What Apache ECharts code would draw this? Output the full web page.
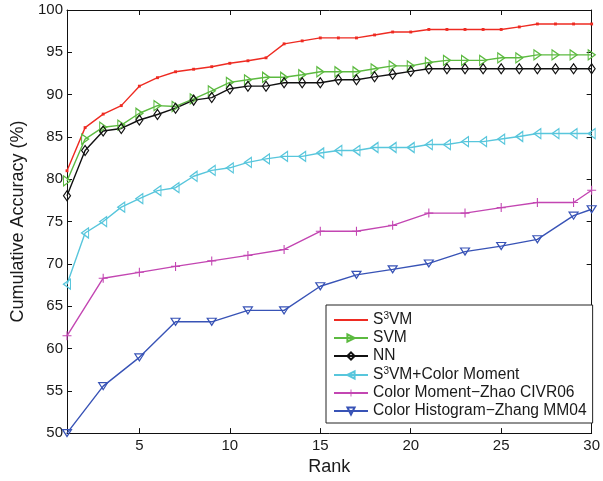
<!DOCTYPE html>
<html><head><meta charset="utf-8">
<script src="https://cdn.jsdelivr.net/npm/echarts@6/dist/echarts.min.js"></script>
<style>html,body{margin:0;padding:0;background:#fff}#c{width:603px;height:481px}</style>
</head><body><div id="c"></div>
<script>
const ranksAll = [1,2,3,4,5,6,7,8,9,10,11,12,13,14,15,16,17,18,19,20,21,22,23,24,25,26,27,28,29,30];
const ranksOdd = [1,3,5,7,9,11,13,15,17,19,21,23,25,27,29,30];
const xTicks = [5,10,15,20,25,30];
const s3vm = [81.0,86.1,87.7,88.7,91.0,92.0,92.7,93.0,93.3,93.7,94.0,94.35,96.0,96.35,96.7,96.7,96.7,97.05,97.4,97.4,97.7,97.7,97.7,97.7,97.7,98.0,98.35,98.35,98.35,98.35];
const svm = [79.8,84.75,86.15,86.4,87.8,88.7,88.6,89.5,90.45,91.45,91.75,92.05,92.05,92.35,92.7,92.7,92.7,93.05,93.4,93.4,93.8,94.05,94.05,94.05,94.35,94.35,94.7,94.7,94.7,94.7];
const nn = [78.05,83.4,85.7,86.0,87.0,87.65,88.4,89.35,89.65,90.7,91.0,91.0,91.4,91.4,91.4,91.75,91.75,92.1,92.4,92.75,93.05,93.05,93.05,93.05,93.05,93.05,93.05,93.05,93.05,93.05];
const s3vmCM = [67.6,73.65,75.0,76.7,77.7,78.65,79.0,80.35,81.05,81.35,82.0,82.4,82.7,82.7,83.1,83.4,83.4,83.75,83.75,83.75,84.1,84.1,84.45,84.45,84.75,85.05,85.4,85.4,85.4,85.4];
const cmZhao = [61.5,68.3,69.0,69.7,70.35,71.0,71.7,73.85,73.85,74.55,76.0,76.0,76.65,77.25,77.25,78.7];
const chZhang = [50.0,55.55,58.95,63.15,63.15,64.5,64.5,67.35,68.7,69.35,70.05,71.45,72.1,72.9,75.7,76.45];
const names = ['S3VM','SVM','NN','S3VM+Color Moment','Color Moment\u2212Zhao CIVR06','Color Histogram\u2212Zhang MM04'];

const pair = (xs, ys) => xs.map((x, i) => [x, ys[i]]);
const font = 'Liberation Sans, Arial, Helvetica, sans-serif';
const chart = echarts.init(document.getElementById('c'), null, {renderer: 'canvas'});

function mk(name, xs, ys, color, symbol, size, rot, hollow) {
  return {
    name, type: 'line', data: pair(xs, ys),
    symbol, symbolSize: size, symbolRotate: rot || 0,
    lineStyle: {color, width: 1.4},
    itemStyle: hollow ? {color: 'rgba(255,255,255,0)', borderColor: color, borderWidth: 1.2}
                      : {color, borderWidth: 0},
    emphasis: {disabled: true}, animation: false, z: 2
  };
}
const plus = 'path://M4.4,0H5.6V4.4H10V5.6H5.6V10H4.4V5.6H0V4.4H4.4Z';
const dot = 'path://M0,0M10,10M3.8,3.8H6.2V6.2H3.8Z';

const axisCommon = {
  type: 'value', min: 1, max: 30,
  axisLine: {show: true, onZero: false, lineStyle: {color: '#111', width: 1}},
  splitLine: {show: false}
};
const yCommon = {
  type: 'value', min: 50, max: 100, interval: 5,
  axisLine: {show: true, onZero: false, lineStyle: {color: '#111', width: 1}},
  splitLine: {show: false}
};

chart.setOption({
  backgroundColor: '#fff',
  animation: false,
  grid: {left: 67, right: 6, top: 10, bottom: 43, containLabel: false},
  xAxis: [
    Object.assign({}, axisCommon, {
      position: 'bottom',
      name: 'Rank', nameLocation: 'middle', nameGap: 18,
      nameTextStyle: {fontFamily: font, fontSize: 18, color: '#1a1a1a'},
      axisTick: {show: true, inside: true, length: 5, customValues: xTicks, lineStyle: {color: '#111'}},
      axisLabel: {show: true, customValues: xTicks, margin: 5, fontFamily: font, fontSize: 15, color: '#1a1a1a'}
    }),
    Object.assign({}, axisCommon, {
      position: 'top',
      axisTick: {show: true, inside: true, length: 5, customValues: xTicks, lineStyle: {color: '#111'}},
      axisLabel: {show: false}
    })
  ],
  yAxis: [
    Object.assign({}, yCommon, {
      position: 'left',
      name: 'Cumulative Accuracy (%)', nameLocation: 'middle', nameGap: 38,
      nameTextStyle: {fontFamily: font, fontSize: 18, color: '#1a1a1a'},
      axisTick: {show: true, inside: true, length: 5, lineStyle: {color: '#111'}},
      axisLabel: {show: true, margin: 4, fontFamily: font, fontSize: 15, color: '#1a1a1a'}
    }),
    Object.assign({}, yCommon, {
      position: 'right',
      axisTick: {show: true, inside: true, length: 5, lineStyle: {color: '#111'}},
      axisLabel: {show: false}
    })
  ],
  legend: {
    orient: 'vertical', left: 326, top: 305,
    padding: [6, 6, 4, 7], itemGap: 2, itemWidth: 34, itemHeight: 9,
    backgroundColor: '#fff', borderColor: '#222', borderWidth: 1,
    data: names,
    formatter: function (n) {
      if (n.indexOf('S3VM') === 0) return '{t|S}{s|3}{t|' + n.slice(2) + '}';
      return '{t|' + n + '}';
    },
    textStyle: {
      fontFamily: font, fontSize: 15.6, color: '#1a1a1a',
      rich: {
        t: {fontFamily: font, fontSize: 15.6, lineHeight: 18, color: '#1a1a1a'},
        s: {fontFamily: font, fontSize: 10, lineHeight: 9, verticalAlign: 'top', color: '#1a1a1a'}
      }
    }
  },
  series: [
    mk(names[0], ranksAll, s3vm, '#ee2b22', dot, 12, 0, false),
    mk(names[1], ranksAll, svm, '#5cba40', 'triangle', [10, 7], -90, true),
    mk(names[2], ranksAll, nn, '#111111', 'diamond', [7, 10], 0, true),
    mk(names[3], ranksAll, s3vmCM, '#58c6dc', 'triangle', [10, 7], 90, true),
    mk(names[4], ranksOdd, cmZhao, '#c346b2', plus, 9, 0, false),
    mk(names[5], ranksOdd, chZhang, '#3853b6', 'triangle', [9, 7], 180, true)
  ]
});
</script>
</body></html>
